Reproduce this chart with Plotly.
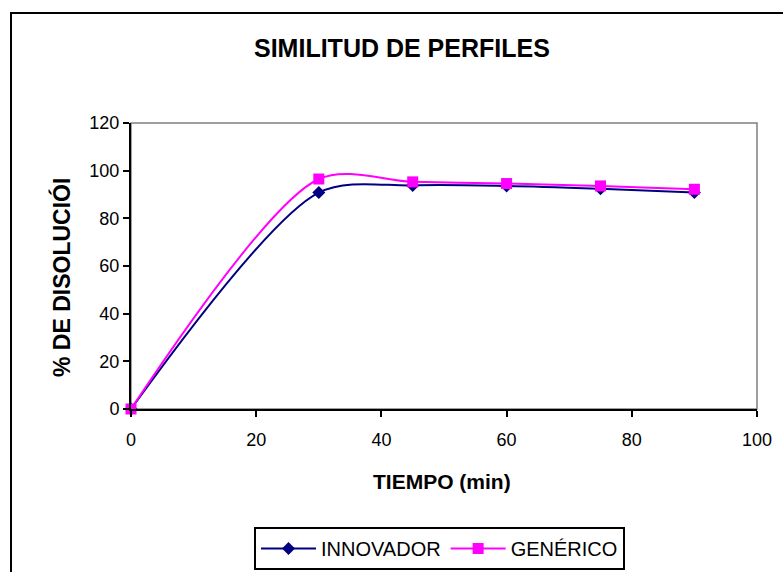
import plotly.graph_objects as go

tiempo = [0, 30, 45, 60, 75, 90]
innovador = [0, 90.8, 93.8, 93.6, 92.4, 90.8]
generico = [0, 96.5, 95.3, 94.6, 93.6, 92.2]

x_ticks = [0, 20, 40, 60, 80, 100]
y_ticks = [0, 20, 40, 60, 80, 100, 120]

FONT = "Liberation Sans, Arial, sans-serif"

W, H = 783, 572
L, R, T, B = 131, 26, 123, 163
pw, ph = W - L - R, H - T - B


def px(x):
    return (x - L) / pw


def py(y):
    return (H - B - y) / ph


fig = go.Figure()
fig.add_trace(go.Scatter(
    x=tiempo, y=innovador, name="INNOVADOR", mode="lines+markers",
    line=dict(color="#000080", width=2, shape="spline", smoothing=0.85),
    marker=dict(symbol="diamond", size=10, color="#000080"),
    cliponaxis=False,
))
fig.add_trace(go.Scatter(
    x=tiempo, y=generico, name="GENÉRICO", mode="lines+markers",
    line=dict(color="#FF00FF", width=2, shape="spline", smoothing=0.85),
    marker=dict(symbol="square", size=11, color="#FF00FF"),
    cliponaxis=False,
))

fig.update_layout(
    width=W, height=H,
    margin=dict(l=L, r=R, t=T, b=B, pad=0, autoexpand=False),
    paper_bgcolor="white", plot_bgcolor="white",
    font=dict(family=FONT, color="black", size=18),
    showlegend=True,
    legend=dict(
        orientation="h", xref="container", yref="container",
        x=254 / W, y=1 - 527 / H, xanchor="left", yanchor="top",
        bordercolor="black", borderwidth=2, bgcolor="white",
        font=dict(family=FONT, size=20, color="black"),
        itemwidth=55,
    ),
    xaxis=dict(
        range=[0, 100], tickvals=x_ticks, showgrid=False, zeroline=False,
        showline=True, linecolor="black", linewidth=2,
        ticks="outside", ticklen=6, tickwidth=1.5, tickcolor="black",
        ticklabelstandoff=7, automargin=False,
        tickfont=dict(family=FONT, size=18, color="black"),
    ),
    yaxis=dict(
        range=[0, 120], tickvals=y_ticks, showgrid=False, zeroline=False,
        showline=True, linecolor="black", linewidth=2,
        ticks="outside", ticklen=6, tickwidth=1.5, tickcolor="black",
        automargin=False,
        tickfont=dict(family=FONT, size=18, color="black"),
    ),
    shapes=[
        dict(type="rect", xref="paper", yref="paper", x0=0, x1=1, y0=0, y1=1,
             line=dict(color="#808080", width=1.5), layer="below"),
        dict(type="rect", xref="paper", yref="paper",
             x0=px(11), x1=1.3, y0=-0.8, y1=py(13),
             line=dict(color="black", width=2), layer="below"),
    ],
    annotations=[
        dict(text="<b>SIMILITUD DE PERFILES</b>", xref="paper", yref="paper",
             x=px(402), y=py(48), xanchor="center", yanchor="middle",
             showarrow=False, font=dict(family=FONT, size=25, color="black")),
        dict(text="<b>% DE DISOLUCIÓI</b>", xref="paper", yref="paper",
             x=px(61), y=py(278), xanchor="center", yanchor="middle",
             textangle=-90, showarrow=False,
             font=dict(family=FONT, size=23, color="black")),
        dict(text="<b>TIEMPO (min)</b>", xref="paper", yref="paper",
             x=px(442), y=py(481), xanchor="center", yanchor="middle",
             showarrow=False, font=dict(family=FONT, size=21, color="black")),
    ],
)

fig.write_html("out.html")
